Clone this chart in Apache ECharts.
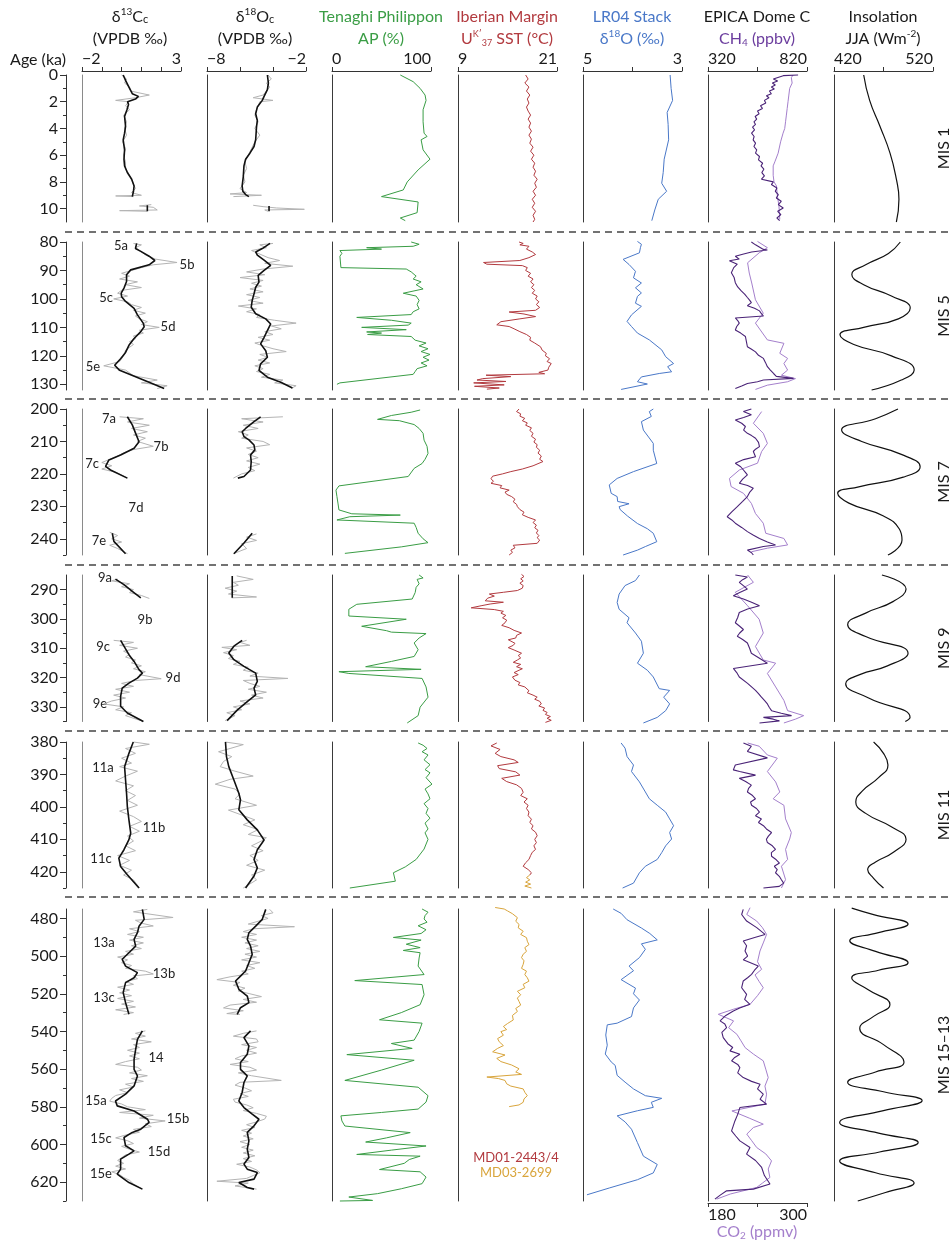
<!DOCTYPE html>
<html><head><meta charset="utf-8">
<script src="https://cdn.jsdelivr.net/npm/echarts@6/dist/echarts.min.js"></script>
<style>html,body{margin:0;padding:0;background:#fff}#c{width:952px;height:1240px}</style>
</head><body><div id="c"></div>
<script>
// ================= DATA (age ka, value) =================
// ---- MIS 1 ----
const c13Raw1=[[0,0.0],[0.3,0.25],[0.6,0.15],[0.9,0.4],[1.2,0.45],[1.5,1.4],[1.7,0.7],[1.9,-0.3],[2.0,0.35],[2.3,0.2],[2.6,0.4],[3.0,0.1],[3.5,0.25],[4.0,0.15],[4.5,0.25],[5.0,0.05],[5.5,0.2],[6.0,0.1],[6.5,0.2],[7.0,0.2],[7.5,0.4],[8.0,0.55],[8.5,0.7],[8.8,0.5],[9.0,1.0],[9.05,-0.3],[9.1,0.6],null,[9.7,1.5],[9.8,0.9],[9.9,1.6],[10.1,1.8],[10.15,-0.1],[10.2,1.3]];
const c13Fit1=[[0,0.08],[0.4,0.2],[0.9,0.37],[1.4,0.54],[1.6,0.85],[1.8,0.7],[2.0,0.3],[2.2,0.35],[2.6,0.27],[3.1,0.15],[3.85,0.2],[4.35,0.15],[4.85,0.08],[5.6,0.15],[6.3,0.12],[6.8,0.15],[7.3,0.29],[7.8,0.51],[8.3,0.63],[8.7,0.6],[9.1,0.54],null,[9.75,1.3],[10.2,1.3]];
const o18Raw1=[[0,-4.3],[0.3,-4.1],[0.6,-4.4],[0.9,-4.2],[1.2,-4.4],[1.5,-4.6],[1.7,-5.2],[1.9,-4.0],[2.0,-4.8],[2.3,-4.9],[2.6,-5.0],[3.0,-5.1],[3.5,-4.9],[4.0,-5.1],[4.5,-4.8],[5.0,-5.1],[5.5,-5.3],[6.0,-5.5],[6.5,-5.7],[7.0,-5.6],[7.5,-5.8],[8.0,-5.7],[8.5,-6.0],[8.8,-5.6],[8.9,-6.6],[9.0,-4.7],[9.1,-6.4],null,[9.75,-5.2],[9.85,-4.6],[9.95,-3.8],[10.05,-2.1],[10.1,-4.5],[10.2,-4.3]];
const o18Fit1=[[0,-4.34],[0.6,-4.28],[1.1,-4.34],[1.6,-4.54],[1.9,-4.65],[2.4,-4.95],[2.9,-5.05],[3.4,-4.95],[3.9,-5.0],[4.85,-5.05],[5.35,-5.15],[5.85,-5.4],[6.3,-5.66],[6.8,-5.76],[7.6,-5.8],[8.3,-5.87],[8.7,-5.83],[8.95,-5.66],[9.1,-5.46],null,[9.8,-4.24],[10.2,-4.24]];
const ap1=[[0,69],[0.5,82],[1,89],[1.5,94],[1.9,95],[2.6,92],[3.5,92],[4.35,93],[4.6,96],[4.85,90],[5.6,92],[6.3,99],[7.1,87],[8.0,76],[8.6,72],[9.1,50],[9.5,87],[10.3,86],[10.7,69],[10.9,74]];
const sst1=[[0,17.2],[0.3,17.5],[0.6,17.1],[0.9,17.6],[1.2,17.3],[1.5,17.7],[1.8,17.4],[2.1,17.6],[2.4,17.3],[2.7,17.5],[3.0,17.8],[3.3,17.5],[3.6,17.8],[3.9,17.6],[4.2,17.9],[4.5,17.6],[4.8,17.9],[5.1,17.7],[5.4,18.1],[5.7,17.8],[6.0,18.2],[6.3,17.9],[6.6,18.3],[6.9,18.1],[7.2,18.4],[7.5,18.2],[7.8,18.6],[8.1,18.3],[8.4,18.5],[8.7,18.1],[9.0,18.4],[9.3,18.0],[9.6,18.3],[9.9,18.0],[10.2,18.4],[10.5,18.1],[10.8,18.3],[11,18.1]];
const lr1=[[0,3.24],[1.0,3.22],[1.9,3.19],[2.8,3.3],[3.7,3.28],[4.85,3.27],[6.3,3.36],[7.3,3.38],[8.1,3.41],[8.7,3.31],[9.3,3.48],[10.1,3.55],[10.9,3.61]];
const ch4_1=[[0,775],[0.05,700],[0.15,690],[0.3,650],[0.45,672],[0.6,645],[0.75,660],[0.9,640],[1.05,655],[1.2,630],[1.4,640],[1.55,615],[1.7,628],[1.9,605],[2.1,612],[2.3,585],[2.5,595],[2.7,570],[2.9,578],[3.1,558],[3.3,566],[3.5,552],[3.7,560],[3.9,545],[4.1,555],[4.35,540],[4.6,553],[4.85,548],[5.1,560],[5.35,552],[5.6,566],[5.85,560],[6.1,580],[6.35,575],[6.6,596],[6.8,588],[7.05,602],[7.3,592],[7.55,605],[7.8,590],[8.0,650],[8.2,640],[8.45,668],[8.7,660],[8.95,675],[9.2,665],[9.45,690],[9.7,675],[9.95,700],[10.2,672],[10.45,688],[10.7,668],[10.9,682]];
const co2_1=[[0,283],[0.2,281],[0.6,282],[1.0,279],[1.5,278],[2.0,277],[2.5,276],[3.0,275],[3.5,274],[4.0,273],[4.35,271],[5.0,268],[5.85,265],[6.5,261],[6.8,259],[7.5,259],[8.0,260],[8.3,263],[9.0,264],[9.8,266],[10.8,267]];
const ins1=[[0,450],[1.9,456],[3.85,466.5],[5.85,476.6],[7.8,483],[9.3,485.6],[11,483]];
// ---- MIS 5 ----
const c13Raw5=[[80.5,0.6],[81,1.0],[82,0.7],[83,0.9],[84.5,1.2],[86,1.7],[87.2,2.8],[88,1.6],[89,1.0],[90,0.5],[91,0.0],[92,0.4],[93,-0.1],[94,0.8],[95,0.2],[96,1.0],[97,0.0],[98,-0.2],[99,0.3],[100,-0.4],[101,0.3],[102,0.5],[103,1.0],[104,0.6],[105,1.2],[106,0.7],[107,0.9],[108,1.3],[109,1.0],[110,1.9],[111,0.9],[112,1.1],[113,0.6],[114,0.7],[115,0.4],[116,0.6],[118,0.2],[120,0.1],[122,-0.1],[123.5,-0.9],[125,0.2],[127,0.6],[128.5,1.8],[129.5,1.0],[130.5,2.3],[131.5,1.8]];
const c13Fit5=[[80.5,0.76],[82.3,0.7],[83.3,0.97],[85,1.39],[86.5,1.68],[88,1.39],[89.8,0.46],[91.5,0.25],[93.9,0.25],[96.2,0.12],[98,-0.02],[99.2,0.0],[100.9,0.2],[103.3,0.63],[105.6,0.8],[108.6,1.1],[109.8,1.14],[111.5,0.97],[113.9,0.63],[116.3,0.37],[118.8,0.2],[121,-0.05],[123.3,-0.35],[125.1,-0.1],[128.6,1.14],[131.5,2.15]];
const o18Raw5=[[80.5,-4.0],[81,-4.8],[82,-4.4],[83,-5.3],[84,-4.9],[85.5,-4.3],[86.5,-3.6],[87.5,-4.5],[88.5,-2.8],[89.5,-4.6],[90.5,-5.6],[91.5,-4.5],[92.5,-6.0],[93.5,-4.6],[94.5,-5.3],[95.5,-4.7],[96.5,-5.4],[97.5,-4.6],[98.5,-5.6],[99.5,-4.8],[100.5,-5.5],[101.5,-4.6],[102.5,-6.1],[103.5,-5.0],[104.5,-5.6],[105.5,-4.8],[106.5,-5.0],[107.5,-3.9],[108.5,-2.6],[109.5,-4.1],[110.5,-3.5],[111.5,-4.5],[112.5,-4.0],[113.5,-4.9],[114.5,-4.2],[115.5,-5.1],[116.5,-4.6],[117.5,-4.0],[118.5,-3.2],[119.5,-4.8],[120.5,-4.3],[121.5,-4.9],[122.5,-4.2],[123.5,-5.1],[124.5,-4.6],[125.5,-5.0],[126.5,-4.2],[127.5,-4.7],[128.5,-3.4],[129.5,-3.9],[130.5,-2.6],[131.5,-2.9]];
const o18Fit5=[[80.5,-4.18],[82.3,-4.65],[83.5,-5.05],[84.6,-4.95],[86.4,-4.54],[88.2,-4.14],[90,-4.54],[91.7,-4.9],[94.1,-4.85],[95.9,-5.05],[98.2,-5.15],[100.5,-5.26],[102.9,-5.32],[105.2,-5.05],[107,-4.44],[108.8,-4.14],[111.1,-4.34],[113.5,-4.54],[115.8,-4.75],[118.2,-4.44],[120.5,-4.34],[122.8,-4.75],[125.1,-4.85],[127.5,-4.34],[129.3,-3.53],[131.3,-2.82]];
const ap5=[[80,80],[80.8,88],[81.5,82],[82,35],[82.5,50],[83,8],[84,10],[85,8],[89,9],[89.5,75],[90.5,80],[92,85],[93,82],[94,90],[95,85],[96.5,92],[98,72],[99,85],[100.5,88],[102,86],[103.5,88],[104.5,82],[105.5,80],[106.5,25],[107.5,60],[108.5,80],[109.2,77],[110,30],[110.8,75],[111.6,35],[112,50],[112.5,36],[113.2,80],[114.5,84],[115.5,95],[116.5,88],[117.5,97],[118.5,90],[119.5,99],[120.5,92],[121.5,98],[122.5,90],[123.5,96],[124.5,86],[125.5,84],[126.5,82],[129.5,8],[130,5]];
const sst5=[[80,16.4],[80.5,16.9],[81,16.5],[81.5,17.6],[82.5,17.3],[83.5,18.0],[84.4,18.4],[85.5,17.6],[86.5,16.5],[87.2,12.1],[87.8,12.5],[88.3,16.8],[89,17.4],[90,17.2],[91,17.8],[92,17.5],[93,18.1],[94,17.8],[95,18.2],[96,17.9],[97,18.3],[98,18.0],[99,18.6],[100,18.4],[101,18.8],[102,18.5],[103,18.9],[104,18.4],[104.6,15.2],[105.3,17.0],[106.2,18.4],[107,16.5],[108,14.2],[109.1,13.7],[109.7,15.2],[110.5,15.8],[111.5,16.5],[112.5,17.3],[113.5,17.8],[114.5,17.7],[115.5,18.3],[116.8,19.0],[118,19.2],[119.1,19.7],[120,19.6],[121,20.1],[122,19.8],[122.7,20.3],[124,20.0],[125,19.9],[125.8,18.8],[126.3,19.5],[126.8,12.4],[127.3,15.4],[128,12.0],[128.5,11.3],[129,14.8],[129.5,10.9],[130.2,14.6],[130.7,11.0],[131.3,14.0],[131.7,12.5]];
const lr5=[[79.8,3.90],[80.8,3.82],[82,3.84],[83.8,3.86],[86.1,4.19],[87.9,4.07],[90.3,3.94],[92.6,3.98],[94.4,3.82],[96.1,3.94],[97.9,3.82],[99.1,3.90],[101.5,3.94],[102.6,3.82],[105.6,4.02],[107.9,4.11],[109.7,4.02],[112,3.90],[114.4,3.66],[117.9,3.41],[120.3,3.33],[122.7,3.17],[123.8,3.29],[125.6,3.21],[126.2,3.46],[127.4,3.82],[129.1,3.90],[129.9,3.70],[131.8,4.23]];
const ch4_5=[[80,539],[81,560],[82.6,600],[82.8,620],[83.5,540],[84.2,500],[85,458],[86,478],[86.6,428],[87.8,468],[89,450],[90.8,438],[92.5,452],[94.3,458],[95.8,470],[97.2,488],[98.3,505],[99.5,519],[100.4,530],[101.3,539],[102.4,519],[103.3,555],[104.2,580],[105.2,590],[106,600],[106.7,458],[107.6,470],[108.5,478],[109.7,465],[110.9,458],[112,485],[113.2,509],[115,514],[116.8,519],[117.7,540],[118.6,560],[119.8,575],[120.9,600],[122.3,610],[123.8,620],[125,635],[126.2,651],[127.2,665],[127.9,752],[128.5,600],[129.1,570],[129.7,519],[130.6,490],[131.5,458]];
const co2_5=[[79.8,240],[82,252],[83.8,242],[87.3,228],[90.9,230],[94.4,233],[100.3,237.5],[105,247],[108.5,237.5],[114.4,252],[115.6,272],[119.1,267],[120.9,276.5],[122.7,272],[125,276.5],[126.8,269],[128,286],[129.1,276.5],[130.3,252],[131.8,237.5]];
const ins5=[[80,487],[84,475],[88,452],[91.4,438],[95,450],[99,478],[103.2,497],[107,485],[110,450],[112.6,426],[116,440],[120,478],[125,501],[128.5,488],[132,458]];
// ---- MIS 7 ----
const c13Raw7=[[202.4,-0.1],[203,1.1],[204,0.3],[205,1.4],[206,0.5],[207,1.3],[208,0.6],[209,1.2],[210,0.8],[211.5,1.6],[212.5,0.6],[213.5,0.1],[214.5,-0.2],[215.5,-0.6],[216.5,-1.0],[217.5,-0.5],[218.5,-1.0],[219.5,-0.3],[221.3,0.3],null,[238,-0.6],[239,-0.2],[240,-0.5],[241,0.0],[242,-0.6],[243,-0.2],[244.6,0.3]];
const c13Fit7=[[202.4,0.29],[204.9,0.54],[207.5,0.71],[210.1,0.88],[212.1,0.63],[214.2,-0.05],[215.7,-0.64],[217.7,-0.81],[218.8,-0.56],[221.3,0.29],null,[238.3,-0.47],[240.8,-0.39],[244.6,0.2]];
const o18Raw7=[[202.4,-3.4],[203,-5.9],[204,-4.6],[205,-5.8],[206,-4.9],[207,-6.1],[208,-5.5],[209,-5.9],[210,-4.6],[211,-4.2],[212,-5.6],[213,-5.0],[214,-5.5],[215,-4.9],[216,-5.6],[217,-4.8],[218,-5.5],[219,-5.1],[220,-5.9],[221.3,-6.4],null,[238.5,-5.0],[239.5,-5.6],[240.5,-5.0],[241.5,-5.9],[243,-5.6],[244.6,-6.4]];
const o18Fit7=[[202.4,-4.75],[203.9,-5.15],[206,-5.66],[207,-5.87],[208.5,-5.76],[209.5,-5.46],[211.1,-5.15],[212.6,-5.1],[214.2,-5.36],[216.2,-5.32],[218.8,-5.36],[220.8,-5.76],[221.3,-6.13],null,[238.3,-5.26],[241.3,-5.76],[244.6,-6.37]];
const ap7=[[200.3,89],[201,80],[202,60],[203.2,46],[203.6,68],[204.8,83],[206,88],[207.5,92],[209.6,93],[211.5,96],[213.7,97],[215.5,94],[216.8,91],[218.3,83],[220.8,77],[223.7,7],[225,4],[227,5],[229,6],[231.1,7],[232.3,20],[232.7,69],[233.2,18],[234.2,5],[235.2,83],[236.5,85],[238.3,87],[240,92],[241.2,97],[242.5,70],[244.5,13]];
const sst7=[[200,16.4],[200.8,16.1],[201.5,16.6],[202.2,16.5],[202.9,17.1],[203.6,16.8],[204.3,17.4],[205,17.2],[205.8,17.9],[206.6,17.7],[207.5,18.1],[208.4,17.9],[209.3,18.4],[210.2,18.2],[211,18.6],[211.8,18.5],[212.7,18.9],[213.6,18.7],[214.5,19.1],[215.5,18.9],[216.2,19.3],[216.8,19.2],[217.5,18.1],[218.5,16.8],[219.3,15.4],[220,14.4],[220.7,13.2],[221.5,13.0],[222.3,13.3],[222.9,13.0],[223.6,14.3],[224.3,14.1],[225,15.2],[225.6,14.7],[226.3,14.9],[227,15.5],[227.8,15.9],[228.6,15.7],[229.4,16.1],[230.1,16.2],[231,16.5],[231.8,17.0],[232.6,16.8],[233.4,17.5],[234.2,18.4],[235,18.1],[235.8,18.5],[236.6,18.3],[237.4,18.7],[238.2,18.5],[239,18.8],[239.7,18.6],[240.4,18.9],[241.4,18.6],[242,15.7],[242.8,15.9],[243.5,15.4],[244.2,15.6],[245,15.2]];
const lr7=[[200,3.58],[200.8,3.66],[202.3,3.62],[203.9,3.82],[206.5,3.78],[210.6,3.58],[212.7,3.58],[216.8,3.51],[219.3,3.98],[221.4,4.31],[223.4,4.47],[226,4.43],[227,4.31],[228.5,4.30],[229.2,4.07],[230.1,4.27],[231,4.25],[233,4.10],[235.3,3.90],[236.9,3.70],[238.3,3.58],[240.9,3.51],[242.4,3.74],[243.5,3.90],[245,4.19]];
const ch4_7=[[200,539],[200.8,499],[201.8,539],[202.6,500],[203.4,458],[204.4,490],[205.4,509],[206.5,500],[207.5,519],[208.2,540],[209,560],[210.3,575],[211.6,580],[212.4,560],[213.1,549],[214.7,560],[215.6,500],[216.7,458],[217.8,485],[218.8,499],[219.6,510],[220.3,519],[221.6,495],[222.9,478],[223.6,520],[224.4,549],[225.7,530],[227,519],[228.5,495],[230.1,468],[231.7,440],[233.2,417],[234.2,440],[235.2,458],[236.5,490],[237.8,519],[238.9,550],[239.9,580],[241,620],[241.9,661],[242.4,600],[243.5,519],[244.3,540],[245,549]];
const co2_7=[[200.8,245],[204.4,235],[207.5,247],[210.6,252],[213.1,245],[216.7,240],[218.8,218],[221.4,206],[223.9,208],[226,223],[229.1,232.6],[232.2,237.5],[235.2,247],[238.3,250],[239.9,272],[241.9,276.5],[242.9,252],[244,232.6]];
const ins7=[[200,484.6],[203,462],[206.5,427.7],[210,448],[214,488],[217.8,507],[221,490],[224,445],[226,423.7],[229,435],[233,470],[237,486],[240.4,488.7],[245,474.5]];
// ---- MIS 9 ----
const c13Raw9=[[286.4,-0.2],[287,-0.5],[288,0.4],[289,0.0],[290,0.6],[291,0.4],[292,1.0],[293,1.4],null,[307.3,-0.4],[308,0.6],[309,-0.1],[310,0.8],[311,0.1],[312,0.4],[313,0.2],[314,0.7],[315,0.5],[316,1.0],[317,0.6],[318,1.2],[319,0.9],[320.4,2.0],[321,0.7],[322,0.0],[323,0.6],[324,-0.3],[325,0.4],[326,-0.4],[327,0.2],[328,-0.5],[329,-0.9],[330,0.1],[331,-0.3],[332,0.5],[333,0.2],[335,1.1]];
const c13Fit9=[[286.4,-0.31],[288.3,0.12],[290.6,0.54],[292.8,0.97],null,[307.3,-0.05],[309.3,0.12],[312.2,0.37],[314.5,0.63],[317.3,0.88],[318.5,1.05],[320.2,0.8],[321.9,0.37],[323.6,0.03],[326.4,-0.05],[329.8,-0.05],[332.1,0.29],[335,1.1]];
const o18Raw9=[[285.3,-6.2],[286.5,-5.2],[287.5,-6.4],[288.5,-6.1],[289.5,-6.9],[290.5,-6.2],[291.5,-6.7],[292.5,-5.0],[292.8,-6.5],null,[307.3,-5.6],[308,-6.0],[309,-5.4],[309.7,-7.1],[310.5,-6.2],[311.5,-7.0],[312.5,-6.4],[313.5,-6.7],[314.5,-6.0],[315.5,-6.4],[316.5,-5.5],[317.5,-5.8],[318.5,-4.9],[319.5,-5.4],[320.3,-3.1],[321,-5.8],[322,-5.4],[323,-4.8],[324,-5.5],[325,-4.4],[326,-5.3],[327,-4.6],[328,-6.0],[329,-5.4],[330,-6.4],[331,-5.9],[332,-6.8],[333,-6.3],[334.7,-6.9]];
const o18Fit9=[[285.3,-6.47],[292.8,-6.47],null,[307.3,-5.87],[309.3,-6.37],[311.6,-6.68],[313.9,-6.37],[316.2,-5.76],[318.5,-5.05],[321.3,-4.95],[323.6,-5.15],[325.9,-5.05],[328.2,-5.56],[331.1,-6.17],[334.7,-6.78]];
const ap9=[[285,88],[286,92],[286.5,86],[288,88],[289.2,85],[291,84],[293.2,81],[295,25],[296.7,17],[299,17],[300.1,75],[302.5,30],[304,55],[304.5,60],[305,95],[306.5,88],[308.2,83],[310.5,87],[312.8,83],[314.5,60],[316.3,34],[317.2,90],[318,7],[318.6,17],[320.3,91],[323.2,95],[326.7,97],[330.1,89],[333,87],[335.5,76]];
const sst9=[[284.8,16.7],[285.5,17.0],[286.3,16.6],[287,16.9],[287.8,16.5],[288.6,16.9],[289.5,16.8],[290.3,16.2],[290.9,14.5],[291.5,12.8],[292.2,13.4],[292.9,12.6],[293.8,12.3],[294.3,14.5],[294.9,12.9],[295.5,11.8],[296.2,10.6],[296.8,13.4],[297.4,14.5],[298,14.2],[298.8,14.8],[299.6,14.4],[300.4,14.9],[301.3,14.7],[302.2,14.3],[303,15.2],[303.9,15.8],[304.8,16.7],[305.6,16.1],[306.5,16.0],[307.1,15.1],[307.6,15.0],[308.3,15.9],[309,15.7],[309.8,15.1],[310.6,15.8],[311.7,16.7],[312.5,16.3],[313.3,16.6],[314,16.2],[314.8,15.7],[315.5,16.6],[316.3,16.1],[317,16.8],[317.5,16.4],[318.3,15.8],[319,16.3],[319.8,15.6],[320.9,15.9],[321.7,16.5],[322.5,16.3],[323.2,17.1],[323.8,17.1],[324.5,17.6],[325.2,17.4],[326,18.1],[326.7,18.6],[327.4,18.3],[328.1,18.9],[329,19.1],[329.7,18.8],[330.4,19.5],[331.2,19.3],[331.9,19.8],[332.6,19.6],[333.3,20.2],[333.9,19.8],[334.6,20.3],[335.3,19.6]];
const lr9=[[285,3.86],[286.9,3.94],[288.6,4.15],[291.5,4.27],[294.4,4.31],[296.7,4.27],[299.6,4.07],[301.3,4.11],[304.8,3.94],[307.6,3.82],[311.7,3.78],[315.1,3.90],[317.5,3.70],[319.8,3.58],[323.8,3.46],[324.4,3.25],[326.7,3.37],[329,3.25],[331.3,3.33],[333.6,3.50],[335.5,3.78]];
const ch4_9=[[285,458],[285.7,519],[286.6,495],[287.5,478],[288.7,500],[289.8,519],[291,480],[292.1,448],[293.2,499],[294.3,540],[295.5,580],[296.6,520],[297.8,478],[299.5,470],[301.3,458],[302.5,480],[303.6,499],[304.8,480],[305.9,468],[307,495],[308.2,519],[310,530],[311.7,539],[313.4,580],[315.1,620],[316.9,448],[318.3,465],[319.8,478],[322,520],[324.4,560],[325.5,575],[326.7,590],[327.8,605],[329,620],[330.2,630],[331.3,641],[332.2,690],[333,742],[333.6,600],[334.2,650],[334.8,681],[335.5,580]];
const co2_9=[[285,228],[287.5,235],[290.9,213],[295.5,228],[300.1,242],[304.8,247],[309.4,237.5],[314,247],[315.1,262],[318.6,252],[323.2,262],[327.8,272],[331.3,276.5],[333,296],[334.2,286],[335.5,272]];
const ins9=[[285,468.4],[289.8,492.8],[294,480],[298,452],[301.9,433.8],[306,452],[311.7,494.8],[316,474],[319,446],[322.1,431.8],[327,455],[333.6,496.8],[335,492]];
// ---- MIS 11 ----
const c13Raw11=[[380,0.6],[380.7,1.4],[382,0.2],[383.5,0.7],[385,0.0],[386.5,0.5],[387.6,-0.1],[389,0.8],[390.5,0.2],[392,-0.3],[393.5,0.6],[395,0.2],[396.5,0.7],[398,0.3],[399.5,0.8],[401.3,-0.1],[403,0.6],[404.5,1.0],[406,0.4],[407.5,0.9],[409,0.3],[410.5,0.6],[412,0.2],[413.5,0.7],[415,-0.2],[416.5,0.4],[418,-0.1],[419.5,0.5],[421,0.1],[422.5,0.6],[425,0.9]];
const c13Fit11=[[380,0.59],[383.5,0.37],[387.6,0.15],[391.7,0.2],[395.8,0.25],[399.9,0.29],[404,0.37],[408.1,0.46],[410.1,0.37],[413.2,0.12],[415.8,-0.14],[418.4,-0.05],[420.9,0.29],[425,0.88]];
const o18Raw11=[[380,-6.9],[380.8,-5.8],[382,-6.6],[383,-7.3],[384.5,-6.5],[386,-7.0],[387.6,-7.2],[389,-6.3],[390.5,-5.2],[391.5,-6.6],[393,-7.5],[394.5,-6.3],[396,-6.0],[397.5,-6.3],[399.5,-5.0],[401,-6.7],[402.5,-5.9],[404,-5.1],[405.5,-5.8],[407,-4.9],[408.5,-5.5],[409.5,-4.4],[410.5,-4.7],[412,-5.3],[413.5,-4.6],[415,-5.4],[416.5,-4.9],[418,-5.6],[419.5,-4.5],[421,-5.3],[422.5,-5.0],[425,-5.8]];
const o18Fit11=[[380,-6.88],[384.5,-6.82],[387.6,-6.68],[391.7,-6.37],[395.8,-6.07],[397.8,-5.97],[400.9,-6.07],[404,-5.56],[407.1,-4.95],[410.2,-4.54],[413.2,-4.95],[416.2,-5.15],[418.8,-4.95],[421.3,-5.15],[425,-5.66]];
const ap11=[[380.3,87],[381,92],[382,96],[383,91],[384,97],[385.5,93],[387,99],[388.5,94],[389.5,99],[391,95],[393,101],[394.5,94],[396,97],[397.5,99],[399,93],[400.5,97],[402,95],[403.5,99],[405,94],[406.8,97],[408,94],[410,97],[413,93],[416.2,85],[418.5,74],[420.3,62],[422.9,64],[425,18]];
const sst11=[[380.3,13.7],[381.2,13.0],[382.3,14.1],[383.5,13.5],[384.5,14.2],[385.5,15.8],[386.3,16.3],[387.3,13.8],[388.2,14.0],[389.2,16.0],[390.2,16.5],[391.2,14.3],[392.2,14.9],[393.2,16.1],[394.3,16.7],[395.5,16.9],[396.5,16.6],[397.5,17.4],[398.5,17.0],[399.5,17.5],[400.5,17.3],[401.6,17.6],[402.7,17.5],[403.8,17.9],[404.8,17.7],[405.8,18.1],[406.8,17.9],[407.8,18.4],[408.9,18.6],[410,18.3],[411,18.5],[412,18.2],[413.1,18.4],[414,18.0],[415,17.8],[416.2,17.6],[417.2,17.2],[418.3,16.9],[419.3,17.5],[420.3,17.9],[421,17.7]];
const sstB11=[[421,17.7],[421.8,17.3],[422.5,17.7],[423.2,17.2],[423.8,17.8],[424.4,17.1],[425,17.9]];
const lr11=[[380.3,4.23],[381.9,4.15],[384.5,4.11],[387.1,3.98],[389.1,4.02],[392.3,3.86],[395.4,3.74],[397.5,3.66],[399.5,3.50],[401.6,3.33],[403.7,3.25],[405.8,3.17],[407.9,3.25],[409.9,3.21],[412,3.33],[414.1,3.41],[416.2,3.50],[418.3,3.74],[420.3,3.86],[423.5,3.98],[425,4.2]];
const ch4_11=[[380.3,499],[381.3,539],[382.9,519],[384.9,620],[387.1,458],[388.6,448],[389.1,480],[390.2,560],[391.2,478],[392.2,510],[393.3,539],[394.3,525],[395.4,519],[396.5,545],[397.5,560],[398.5,535],[399.5,540],[400.5,565],[401.6,580],[402.7,560],[403.7,590],[404.8,575],[405.8,600],[406.8,615],[407.9,641],[409,625],[410,615],[411,620],[412,645],[413.1,661],[414.1,640],[415.2,641],[416.3,665],[417.3,681],[418.3,655],[419.3,670],[420.3,661],[421.4,680],[422.4,690],[423.5,702],[424.5,680],[425,600]];
const co2_11=[[380.3,228],[381.3,242],[384,252],[385,264],[389.1,252],[392.3,262],[395.4,267],[397.5,259],[399.5,272],[403.7,274],[407.9,281],[409.9,279],[413.1,274],[416.2,276.5],[418.3,269],[422.4,274],[425,269]];
const ins11=[[380,460],[383.5,470],[387.1,474.5],[391,465],[395,449],[398.5,442],[402,452],[406,477],[410,492.8],[414,480],[417,462],[419.3,454],[422,460],[425,470]];
// ---- MIS 15-13 ----
const c13Raw15=[[475.2,1.3],[476.5,0.6],[479.5,2.6],[481,0.7],[482.5,1.0],[484,1.6],[485.5,0.4],[487,0.9],[488.5,0.3],[490,1.1],[491.5,0.4],[493,1.1],[494.5,0.5],[496,1.0],[497.5,0.2],[499,0.6],[500.5,-0.2],[502,0.3],[503.5,0.0],[505,0.5],[506.5,0.2],[508,1.2],[509.5,1.6],[510.5,0.6],[512,0.8],[513.5,0.2],[515,0.6],[516.5,-0.2],[518,0.4],[519.5,-0.1],[521,0.5],[522.5,-0.2],[524,0.6],[525.5,0.0],[527,0.7],[528.5,-0.3],[530,0.6],[531,0.1],null,[539.7,1.2],[541,0.7],[542.5,1.2],[544,0.5],[545.5,1.5],[547,0.6],[548.5,0.9],[550,0.3],[551.5,0.9],[553,0.4],[554.5,0.9],[556,0.2],[557.5,-0.3],[559,0.8],[560.5,1.0],[562,0.4],[563.5,1.3],[565,0.5],[566.5,1.1],[568,0.2],[569.5,0.6],[571,-0.1],[572.5,0.3],[574,-0.3],[575.5,-0.5],[577,-0.6],[578.5,0.0],[580,0.3],[581.5,1.2],[583,-0.1],[584.5,1.6],[586,0.9],[587.5,2.2],[589,1.2],[590.5,1.5],[592,0.6],[593.5,0.9],[595,0.2],[596.5,-0.3],[598,0.3],[599.5,0.6],[601,0.0],[602.5,0.4],[604,0.9],[605.5,0.2],[607,0.0],[608.5,-0.2],[610,0.1],[611.5,-0.3],[613,0.2],[614.5,-0.5],[616,-0.1],[617.5,0.1],[619,0.4],[621,0.6],[623.7,1.05]];
const c13Fit15=[[475.2,1.05],[480.5,1.14],[484.1,0.88],[487.6,0.8],[491.1,0.63],[494.7,0.71],[498.2,0.37],[501.7,0.03],[505.3,0.2],[508.8,0.8],[511.5,0.63],[514.1,0.2],[519.4,0.08],[524.7,0.2],[530.9,0.37],null,[539.7,1.05],[544.2,0.8],[549.5,0.71],[554.8,0.63],[560.1,0.63],[563.6,0.8],[568.9,0.63],[573.3,0.2],[576.9,-0.31],[579.5,-0.22],[582.2,0.63],[586.6,1.31],[588.3,1.39],[591.9,0.97],[593.6,0.54],[596.3,0.12],[600.7,0.2],[603.4,0.63],[605.1,0.37],[607.8,-0.05],[613.1,-0.05],[615.7,-0.22],[620.2,0.37],[623.7,1.05]];
const o18Raw15=[[475.2,-4.2],[477,-4.0],[478.5,-4.7],[480,-4.3],[481.5,-4.9],[483,-5.5],[484.4,-2.7],[485.5,-5.2],[487,-5.8],[488.5,-5.0],[490,-5.9],[491.5,-5.0],[493,-5.7],[494.5,-4.9],[496,-5.6],[497.5,-4.8],[499,-5.7],[500.5,-5.0],[502,-5.9],[503.5,-4.8],[505,-5.6],[506.5,-5.1],[508,-5.9],[509.5,-5.5],[511,-6.6],[512.5,-7.4],[514,-6.0],[515.5,-6.4],[517,-5.7],[518.5,-6.1],[520,-5.4],[521.5,-4.7],[523,-5.8],[524.5,-5.0],[526,-6.6],[527.5,-7.0],[529,-5.8],[530.5,-6.8],[531,-6.0],null,[539.7,-5.0],[541,-5.8],[542.5,-6.4],[544,-5.0],[545.5,-4.9],[547,-5.9],[548.5,-5.0],[550,-5.6],[551.5,-5.0],[553,-5.9],[554.5,-6.3],[556,-5.5],[557.5,-6.6],[559,-5.4],[560.5,-5.0],[562,-6.1],[563.5,-5.3],[566,-3.5],[567,-6.0],[568.5,-6.3],[570,-5.7],[571.5,-5.3],[573,-6.0],[574.5,-5.5],[576,-6.4],[577.5,-6.3],[579,-5.6],[580.5,-5.2],[582,-5.8],[583.5,-5.0],[585,-4.4],[586.5,-4.5],[588,-5.0],[589.5,-5.6],[591,-5.1],[592.5,-5.9],[594,-5.3],[595.5,-5.8],[597,-5.2],[598.5,-6.0],[600,-5.4],[601.5,-5.9],[603,-5.2],[604.5,-5.8],[606,-5.1],[607.5,-5.8],[609,-5.3],[610.5,-6.2],[612,-5.4],[613.5,-5.0],[615,-4.8],[616.5,-5.2],[618,-5.6],[619.5,-7.4],[620.5,-5.5],[622,-6.3],[623.7,-5.0]];
const o18Fit15=[[475.2,-4.44],[480.5,-4.65],[484.1,-5.05],[487.6,-5.46],[491.1,-5.56],[494.7,-5.36],[499.1,-5.26],[503.5,-5.46],[507.9,-5.66],[510.6,-5.97],[513.2,-6.27],[517.6,-6.07],[521.2,-5.56],[524.7,-5.46],[527.4,-5.97],[530.9,-6.17],null,[539.7,-5.36],[543.3,-5.76],[547.7,-5.46],[552.1,-5.56],[556.5,-5.97],[560.1,-5.97],[563.6,-5.56],[567.1,-5.76],[572.4,-5.87],[576.9,-6.07],[580.4,-5.76],[583.9,-5.26],[586.6,-4.85],[590.1,-5.15],[593.6,-5.56],[598.1,-5.46],[602.5,-5.56],[606.9,-5.46],[610.4,-5.76],[613.1,-5.56],[614.9,-4.95],[618.4,-5.15],[620.2,-6.07],[622.8,-5.56],[623.7,-5.15]];
const ap15=[[475,91],[476.7,97],[478.5,94],[480.3,93],[482,96],[483.9,87],[486,95],[488,90],[490.1,62],[491.5,90],[493.7,75],[495.5,89],[497,72],[498.2,89],[501,88],[505.3,87],[509.8,93],[513,23],[515.1,91],[520.5,93],[525.8,89],[530,70],[533.8,48],[535.6,91],[540,88],[544.6,83],[546.4,60],[549,81],[552.3,15],[555.3,83],[560.5,50],[566,13],[569.6,87],[574.1,97],[577.5,95],[581.2,87],[583,50],[584.8,9],[587.5,10],[590.2,13],[593.7,79],[596.5,55],[598.7,34],[600.8,95],[603,60],[605.3,25],[606.2,89],[608,78],[610,73],[613.3,48],[614.5,89],[617.3,95],[620.8,91],[623.5,70],[626.1,46],[627.9,17],[629.7,41],[630,8]];
const sstB15=[[474.2,13.5],[475,14.6],[476,15.0],[477.5,15.6],[479.6,16.2],[481.5,16.0],[483.2,16.4],[485,16.3],[486.8,16.9],[488.5,16.6],[490.2,17.3],[492.1,17.4],[493.9,17.6],[495.5,17.1],[497.5,17.3],[499,16.9],[500.8,16.7],[502.5,17.0],[504.4,16.9],[506.5,16.7],[508,17.3],[509.8,17.1],[511.5,17.4],[513.3,17.6],[515,16.9],[516.8,17.1],[518.7,16.2],[520.5,16.6],[522.3,16.2],[524.1,16.4],[526,16.6],[527.8,16.0],[529.4,16.2],[531.5,15.6],[533.9,15.7],[535.8,15.0],[537.4,14.5],[539,14.9],[540.1,14.2],[542,14.5],[543.8,13.8],[545.5,14.0],[547.5,14.5],[549,13.8],[550.8,13.2],[552.5,14.7],[554.3,13.7],[556,14.2],[557.8,15.5],[559.8,16.4],[561.5,16.0],[562.8,16.7],[564.2,12.5],[565,13.9],[566,14.7],[567.8,14.9],[569,15.4],[570.5,16.9],[572.3,17.1],[574.1,17.4],[575.8,17.0],[577.6,16.9],[579,16.4],[579.9,15.2]];
const lr15=[[475,4.39],[477.3,4.23],[480.7,4.11],[485.1,3.82],[488,3.65],[491.4,3.50],[493.5,3.82],[496.4,3.74],[500.8,3.86],[505.3,4.07],[507.8,3.98],[512.5,4.23],[517,3.94],[520,3.98],[523.3,3.86],[527.5,3.98],[532.1,4.02],[535.6,4.31],[536.5,4.51],[541.9,4.54],[547.3,4.51],[552,4.55],[556.2,4.43],[558,4.35],[563.3,4.31],[566.9,4.15],[570.5,3.98],[574.1,3.74],[575.5,3.41],[577.6,3.62],[580.3,3.58],[582.1,3.90],[584.8,4.31],[588,4.15],[591.9,4.02],[599,3.90],[606.2,3.78],[610.6,3.50],[615.1,3.58],[618.7,3.90],[623.1,4.47],[626.7,4.92]];
const ch4_15=[[475.2,498],[477.9,490],[481.4,515],[484.9,566],[488.5,608],[490,560],[492,498],[494.5,515],[497.3,507],[500,520],[502,498],[505.3,574],[507.5,555],[509.7,540],[511.5,520],[513.2,498],[516.8,490],[520.3,515],[523,505],[525.6,532],[527.5,480],[529.1,448],[531.5,410],[534.4,381],[536,405],[538,414],[540.5,390],[543.3,397],[546.5,420],[548.5,445],[550.3,431],[552.1,481],[553.8,455],[555.6,439],[557.5,470],[559.2,481],[562,470],[564.5,498],[566.5,540],[568,583],[570.5,570],[573.3,599],[576,583],[578.6,616],[580.4,481],[584,470],[587.5,456],[590,448],[592.8,439],[595.5,460],[598.1,481],[601.6,532],[605.1,515],[608.5,560],[612.2,591],[616.5,605],[621,633],[623.7,549],[624.6,414],[627,380],[629,355]];
const co2_15=[[474.3,231],[477.9,227],[481.4,239],[484.9,246],[488.5,251],[493,247],[497.3,243],[503,240],[507,245],[510,237],[513.5,242],[516.8,247],[521,240],[525.6,231],[528.2,211],[530.9,192.5],[534.4,211],[538,205],[541.5,215],[545,220],[548.6,225],[552,235],[555.6,247],[560,250],[564.5,253],[569,249],[573.3,251],[578.6,249],[582.2,209],[586,230],[589.2,247],[591,235],[594.5,227],[598,233],[601.6,239],[605,250],[608.7,257],[613,253],[617.5,255],[620.5,246],[622.8,239],[626.3,207],[629,190.5]];
const ins15=[[474.5,437.9],[478,460],[483,494.8],[487.5,465],[491.9,435.9],[497.5,462],[503.5,494.8],[507.5,465],[511.6,437.9],[518,455],[525.8,476.5],[532,460],[538.3,446],[547,470],[556.2,490.7],[561.5,462],[566.9,433.8],[572,470],[576.7,509],[582,470],[588.3,425.7],[594,465],[599,505],[604,466],[608.8,425.7],[615,462],[620.5,500.9],[625.5,472],[630,444]];
// ---- age axis tick labels ----
const ageLab1=[0,2,4,6,8,10], ageMin1=[1,3,5,7,9];
const ageLab5=[80,90,100,110,120,130], ageMin5=[85,95,105,115,125];
const ageLab7=[200,210,220,230,240], ageMin7=[205,215,225,235,245];
const ageLab9=[290,300,310,320,330], ageMin9=[295,305,315,325,335];
const ageLab11=[380,390,400,410,420], ageMin11=[385,395,405,415,425];
const ageLab15=[480,500,520,540,560,580,600,620], ageMin15=[490,510,530,550,570,590,610,630];
const misNames=['MIS 1','MIS 5','MIS 7','MIS 9','MIS 11','MIS 15\u201313'];
const subLabels=[['5a',121,246],['5b',187,265],['5c',106,298],['5d',168,327],['5e',93,367],['7a',109,419],['7b',161,447],['7c',92,464],['7d',136,508],['7e',99,541],['9a',105,578],['9b',145,620],['9c',103,647],['9d',173,678],['9e',100,704],['11a',103,768],['11b',154,828],['11c',101,859],['13a',104,943],['13b',164,974],['13c',104,998],['14',156,1058],['15a',96,1101],['15b',178,1119],['15c',101,1139],['15d',159,1152],['15e',101,1174]];

// ================= LAYOUT / BUILD =================
const FONT='Lato, "Open Sans", sans-serif';
const C={gray:'#b4b4b4',black:'#111',green:'#3a9d45',red:'#b23a3f',orange:'#d9a53c',blue:'#4a78c8',dpurp:'#4a2377',lpurp:'#a47fcc',axis:'#333'};
const ROWS=[
 {top:75,h:147,min:0,max:11,lab:ageLab1,mn:ageMin1,s:[[c13Raw1,c13Fit1],[o18Raw1,o18Fit1],ap1,[sst1,null],lr1,[ch4_1,co2_1],ins1]},
 {top:242,h:148,min:80,max:132,lab:ageLab5,mn:ageMin5,s:[[c13Raw5,c13Fit5],[o18Raw5,o18Fit5],ap5,[sst5,null],lr5,[ch4_5,co2_5],ins5]},
 {top:409,h:146,min:200,max:245,lab:ageLab7,mn:ageMin7,s:[[c13Raw7,c13Fit7],[o18Raw7,o18Fit7],ap7,[sst7,null],lr7,[ch4_7,co2_7],ins7]},
 {top:575,h:146.5,min:285,max:335,lab:ageLab9,mn:ageMin9,s:[[c13Raw9,c13Fit9],[o18Raw9,o18Fit9],ap9,[sst9,null],lr9,[ch4_9,co2_9],ins9]},
 {top:742,h:146,min:380,max:425,lab:ageLab11,mn:ageMin11,s:[[c13Raw11,c13Fit11],[o18Raw11,o18Fit11],ap11,[sst11,sstB11],lr11,[ch4_11,co2_11],ins11]},
 {top:909,h:292,min:475,max:630,lab:ageLab15,mn:ageMin15,s:[[c13Raw15,c13Fit15],[o18Raw15,o18Fit15],ap15,[null,sstB15],lr15,[ch4_15,co2_15],ins15]}
];
const COLL=[82,207,332,458,583,708,834], CW=99;
const XS=[{min:-2,max:3,interval:1},{min:-8,max:-2,interval:2},{min:0,max:100,interval:100},{min:9,max:21,interval:12},{min:3,max:5,interval:1,inverse:true},{min:320,max:820,interval:250},{min:420,max:520,interval:50}];
const XCO2={min:180,max:300,interval:60};
const fmt=v=>v<0?'\u2212'+Math.abs(v):String(v);
const grids=[],xAxes=[],yAxes=[],series=[];
function makeX(g,s,show,pos){
  return {gridIndex:g,type:'value',position:pos,min:s.min,max:s.max,interval:s.interval,inverse:!!s.inverse,show:show,offset:pos==='top'?4:2,
    axisLine:{show:true,onZero:false,lineStyle:{color:C.axis,width:1}},
    axisTick:{show:true,length:4,inside:false,lineStyle:{color:C.axis}},
    axisLabel:{show:true,fontSize:16,fontFamily:FONT,color:'#1a1a1a',margin:4,
      alignMinLabel:s.inverse?'right':'left',alignMaxLabel:s.inverse?'left':'right',
      formatter:v=>(v===s.min||v===s.max)?fmt(v):''},
    splitLine:{show:false}};
}
function addLine(data,xi,yi,color,width,smooth,z){
  if(!data) return;
  let seg=[];const segs=[];
  data.forEach(p=>{ if(p===null){ if(seg.length) segs.push(seg); seg=[]; } else seg.push([p[1],p[0]]); });
  if(seg.length) segs.push(seg);
  segs.forEach(sg=>series.push({type:'line',xAxisIndex:xi,yAxisIndex:yi,data:sg,symbol:'none',showSymbol:false,
    smooth:smooth?0.5:false,clip:false,silent:true,animation:false,z:z||2,lineStyle:{color:color,width:width}}));
}
ROWS.forEach((row,r)=>{
  // age axis
  let g=grids.length;
  grids.push({left:66,top:row.top,width:1,height:row.h,containLabel:false,outerBoundsMode:'none'});
  xAxes.push({gridIndex:g,type:'value',show:false,min:0,max:1,splitLine:{show:false}});
  yAxes.push({gridIndex:g,type:'value',position:'left',inverse:true,min:row.min,max:row.max,interval:row.lab[1]-row.lab[0],
    axisLine:{show:true,onZero:false,lineStyle:{color:C.axis}},
    axisTick:{show:true,length:6,customValues:row.lab,lineStyle:{color:C.axis}},
    axisLabel:{show:true,customValues:row.lab,fontSize:16,fontFamily:FONT,color:'#1a1a1a',margin:8,showMaxLabel:true,showMinLabel:true},
    splitLine:{show:false}});
  yAxes.push({gridIndex:g,type:'value',position:'left',inverse:true,min:row.min,max:row.max,
    axisLine:{show:false,onZero:false},
    axisTick:{show:true,length:3,customValues:row.mn,lineStyle:{color:C.axis}},
    axisLabel:{show:false},splitLine:{show:false}});
  // data panels
  for(let c=0;c<7;c++){
    g=grids.length;
    grids.push({left:COLL[c],top:row.top,width:CW,height:row.h,containLabel:false,outerBoundsMode:'none'});
    const xi=xAxes.length; xAxes.push(makeX(g,XS[c],r===0,'top'));
    let xi2=null;
    if(c===5){ xi2=xAxes.length; xAxes.push(makeX(g,XCO2,r===ROWS.length-1,'bottom')); }
    const yi=yAxes.length;
    yAxes.push({gridIndex:g,type:'value',position:'left',inverse:true,min:row.min,max:row.max,
      axisLine:{show:true,onZero:false,lineStyle:{color:c===0?'#8a8a8a':'#3a3a3a',width:1}},
      axisTick:{show:false},axisLabel:{show:false},splitLine:{show:false}});
    const s=row.s[c];
    if(c===0||c===1){ addLine(s[0],xi,yi,C.gray,1,false,2); addLine(s[1],xi,yi,C.black,1.6,false,3); }
    else if(c===2) addLine(s,xi,yi,C.green,1,false,2);
    else if(c===3){ addLine(s[0],xi,yi,C.red,1,false,2); addLine(s[1],xi,yi,C.orange,1,false,3); }
    else if(c===4) addLine(s,xi,yi,C.blue,1,false,2);
    else if(c===5){ addLine(s[1],xi2,yi,C.lpurp,1,false,2); addLine(s[0],xi,yi,C.dpurp,1.1,false,3); }
    else addLine(s,xi,yi,'#111',1.2,true,2);
  }
});

// ================= GRAPHIC TEXT =================
const cv=document.createElement('canvas').getContext('2d');
function mw(t,sz){cv.font=sz+'px '+FONT;return cv.measureText(t).width;}
const gfx=[];
function txt(t,x,y,sz,color,align,extra){
  const e={type:'text',x:x,y:y,silent:true,style:{text:t,fontSize:sz,fontFamily:FONT,fill:color,textAlign:align||'center',align:align||'center',textVerticalAlign:'middle',verticalAlign:'middle'}};
  if(extra) Object.assign(e,extra);
  gfx.push(e);
}
function rich(cx,y,segs,color){
  const tot=segs.reduce((a,s)=>a+mw(s[0],s[1]),0);
  let x=cx-tot/2;
  segs.forEach(s=>{ txt(s[0],x,y+s[2],s[1],color,'left'); x+=mw(s[0],s[1]); });
}
// headers
rich(130,17,[['\u03b4',16,0],['13',10,-5],['C',16,0],['c',11,2]],'#1a1a1a');
txt('(VPDB \u2030)',130,39,16,'#1a1a1a');
rich(255,17,[['\u03b4',16,0],['18',10,-5],['O',16,0],['c',11,2]],'#1a1a1a');
txt('(VPDB \u2030)',255,39,16,'#1a1a1a');
txt('Tenaghi Philippon',381,17,16,C.green);
txt('AP (%)',381,39,16,C.green);
txt('Iberian Margin',507,17,16,C.red);
rich(507,39,[['U',16,0],['K\u2032',9,-5],['37',9,4],[' SST (\u00b0C)',16,0]],C.red);
txt('LR04 Stack',632,17,16,C.blue);
rich(632,39,[['\u03b4',16,0],['18',10,-5],['O (\u2030)',16,0]],C.blue);
txt('EPICA Dome C',757,17,16,'#1a1a1a');
rich(757,39,[['CH',16,0],['4',10,4],[' (ppbv)',16,0]],'#6b3d9e');
txt('Insolation',883,17,16,'#1a1a1a');
rich(883,39,[['JJA (Wm',16,0],['-2',10,-5],[')',16,0]],'#1a1a1a');
txt('Age (ka)',38,60,16,'#1a1a1a');
rich(757,1232,[['CO',16,0],['2',10,4],[' (ppmv)',16,0]],C.lpurp);
txt('MD01-2443/4',516,1158,13,C.red);
txt('MD03-2699',516,1173,13,C.orange);
// MIS labels
ROWS.forEach((row,r)=>{ txt(misNames[r],944,row.top+row.h/2,16,'#1a1a1a','center',{rotation:Math.PI/2}); });
// substage labels
subLabels.forEach(l=>txt(l[0],l[1],l[2],13,'#222'));
// dashed separators
[232,399,565,731,897].forEach(y=>gfx.push({type:'line',silent:true,shape:{x1:65,y1:y,x2:952,y2:y},style:{stroke:'#444',lineWidth:1.3,lineDash:[7,5]}}));

const chart=echarts.init(document.getElementById('c'),null,{renderer:'canvas',width:952,height:1240});
chart.setOption({animation:false,backgroundColor:'#fff',grid:grids,xAxis:xAxes,yAxis:yAxes,series:series,graphic:{elements:gfx}});
</script></body></html>
